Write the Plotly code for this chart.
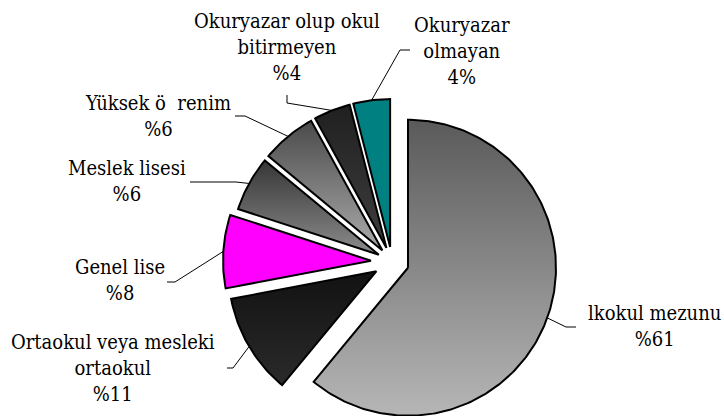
import numpy as np
import plotly.graph_objects as go

# ---- data ----
categories = ["lkokul mezunu", "Ortaokul veya mesleki<br>ortaokul", "Genel lise",
              "Meslek lisesi", "Yüksek ö  renim", "Okuryazar olup okul<br>bitirmeyen",
              "Okuryazar<br>olmayan"]
values = [61, 11, 8, 6, 6, 4, 4]
value_labels = ["%61", "%11", "%8", "%6", "%6", "%4", "4%"]

# ---- styles ----
grad_top = ["#5a5a5a", "#121212", "#ff00ff", "#363636", "#4a4a4a", "#202020", "#008080"]
grad_bottom = ["#b6b6b6", "#2a2a2a", "#ff00ff", "#8c8c8c", "#ababab", "#3e3e3e", "#008080"]
pull_px = [17, 18, 21, 15, 15, 15, 15]

W, H = 724, 416
CX, CY, R = 392, H - 262, 148
FONT = "DejaVu Serif Condensed, DejaVu Serif"
FS = 20

label_pos = [(654, 326), (113, 368), (120, 280), (127, 181), (158, 116), (287, 47), (462, 51)]
leader_pts = [[(566, 327), (576, 327)],
              [(233, 368), (227, 368)],
              [(175, 282), (167, 282)],
              [(236, 182), (190, 182)],
              [(245, 116), (235, 116)],
              [(287, 103), (287, 95)],
              [(400, 50), (410, 50)]]

fig = go.Figure()
total = float(sum(values))
cum = 0.0
for i, v in enumerate(values):
    t1 = 2 * np.pi * cum / total
    cum += v
    t2 = 2 * np.pi * cum / total
    mid = (t1 + t2) / 2
    vx = CX + pull_px[i] * np.sin(mid)
    vy = CY + pull_px[i] * np.cos(mid)
    n = max(4, int(np.degrees(t2 - t1)))
    t = np.linspace(t1, t2, n)
    xs = np.concatenate([[vx], vx + R * np.sin(t), [vx]])
    ys = np.concatenate([[vy], vy + R * np.cos(t), [vy]])
    fig.add_trace(go.Scatter(
        x=xs, y=ys, mode="lines", fill="toself",
        fillgradient=dict(type="vertical",
                          colorscale=[[0, grad_bottom[i]], [1, grad_top[i]]]),
        line=dict(color="black", width=2),
        hoverinfo="skip", showlegend=False))
    ax = vx + R * np.sin(mid)
    ay = vy + R * np.cos(mid)
    lx = [ax] + [p[0] for p in leader_pts[i]]
    ly = [ay] + [H - p[1] for p in leader_pts[i]]
    fig.add_trace(go.Scatter(x=lx, y=ly, mode="lines",
                             line=dict(color="black", width=1),
                             hoverinfo="skip", showlegend=False))
    fig.add_annotation(x=label_pos[i][0], y=H - label_pos[i][1],
                       text=categories[i] + "<br>" + value_labels[i],
                       showarrow=False, xanchor="center", yanchor="middle",
                       align="center",
                       font=dict(family=FONT, size=FS, color="black"))

fig.update_layout(
    width=W, height=H,
    margin=dict(l=0, r=0, t=0, b=0),
    paper_bgcolor="white", plot_bgcolor="white",
    xaxis=dict(range=[0, W], visible=False, fixedrange=True),
    yaxis=dict(range=[0, H], visible=False, fixedrange=True),
    showlegend=False,
)
fig.write_html("out.html", config={"displayModeBar": False},
               post_script="document.body.style.margin='0px';"
                           "document.body.style.overflow='hidden';")
